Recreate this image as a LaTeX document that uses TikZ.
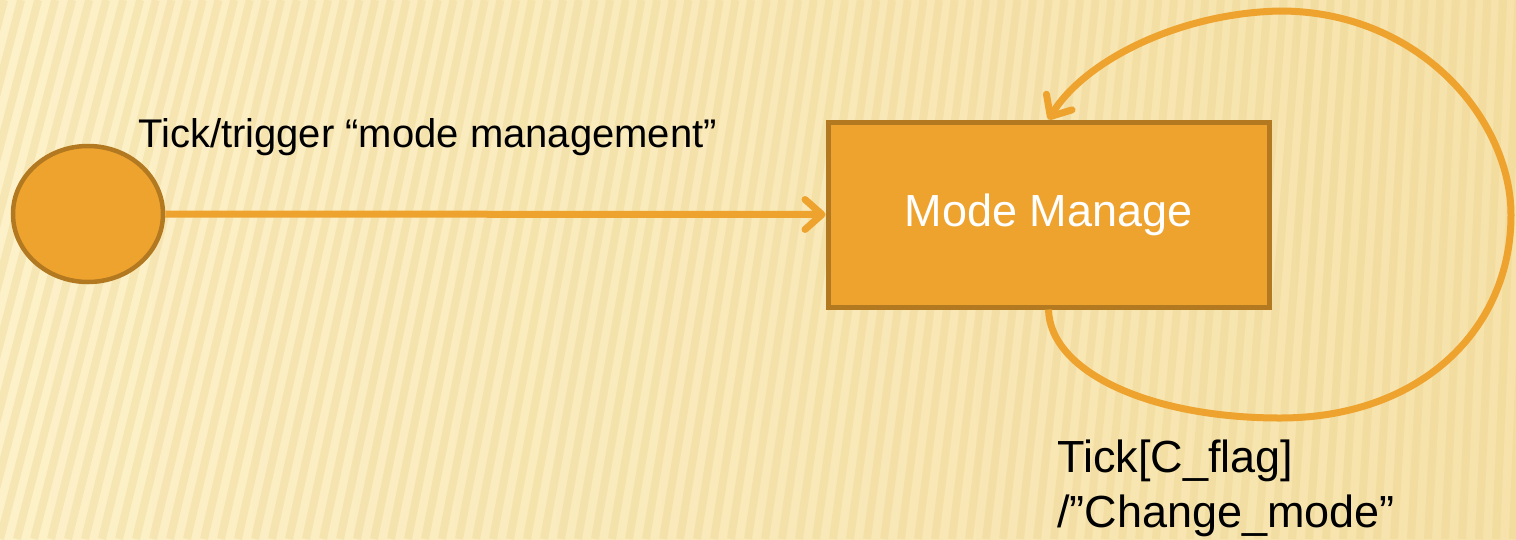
\documentclass[tikz,border=0pt]{standalone}
\usepackage{fontspec}
\setmainfont{Liberation Sans}
\usetikzlibrary{arrows.meta,shapes.geometric}
\definecolor{bgA}{HTML}{FDF1C9}
\definecolor{bgB}{HTML}{F6E2AA}
\definecolor{stripe}{HTML}{E9CF85}
\definecolor{orfill}{HTML}{EEA32E}
\definecolor{orline}{HTML}{B37920}
\tikzset{
  statebox/.style={draw=orline, fill=orfill, line width=5pt, rectangle,
    minimum width=441pt, minimum height=185pt, inner sep=0pt,
    font=\fontsize{45}{54}\selectfont, text=white},
  initstate/.style={draw=orline, fill=orfill, line width=4.5pt, ellipse,
    minimum width=150pt, minimum height=136pt, inner sep=0pt},
  conn/.style={draw=orfill, line width=7pt,
    -{Straight Barb[length=17pt, width=30pt, line width=7pt, round]}},
  lbl/.style={text=black, inner sep=0pt},
}
\begin{document}
\begin{tikzpicture}[x=1pt,y=1pt]
\useasboundingbox (0,0) rectangle (1516,-539);
% background
\shade[left color=bgA, right color=bgB] (0,0) rectangle (1516,-539);
\begin{scope}
\clip (0,0) rectangle (1516,-539);
\foreach \i in {-12,...,92} {
  \pgfmathsetmacro{\xs}{\i*17}
  \pgfmathsetmacro{\tilt}{0.26*(1-0.85*max(0,min(1,\xs/1516)))}
  \draw[stripe, line width=8pt, opacity=0.3] (\xs,-539) -- ({\xs+539*\tilt},0);
}
\end{scope}
% nodes
\node[initstate] (init) at (88,-214) {};
\node[statebox] (mm) at (1048.5,-214.5) {Mode Manage};
\node[lbl, anchor=base west, font=\fontsize{40}{48}\selectfont] (l1) at (138,-147)
  {Tick/trigger “mode management”};
\node[lbl, anchor=base west, align=left, font=\fontsize{45}{55}\selectfont] (l2) at (1057,-527)
  {Tick[C\_flag]\\/”Change\_mode”};
% connectors
\draw[conn] (init.east) -- (mm.west);
\draw[conn] (mm.south) .. controls (1050,-372) and (1150,-418) .. (1280,-418)
  .. controls (1420,-418) and (1511,-330) .. (1511,-215)
  .. controls (1511,-120) and (1420,-11) .. (1280,-11)
  .. controls (1180,-13) and (1085,-60) .. (mm.north);
\end{tikzpicture}
\end{document}
